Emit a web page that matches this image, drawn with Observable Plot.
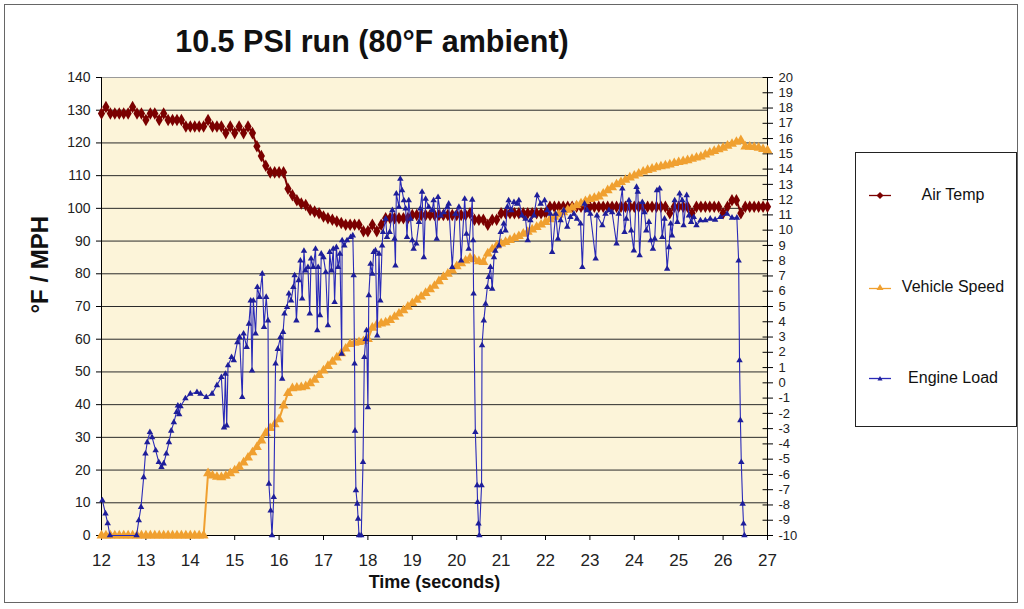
<!DOCTYPE html>
<html>
<head>
<meta charset="utf-8">
<script src="https://cdn.jsdelivr.net/npm/d3@7"></script>
<script src="https://cdn.jsdelivr.net/npm/@observablehq/plot@0.6"></script>
<style>
  html, body { margin: 0; padding: 0; background: #fff; }
  #wrap { position: relative; width: 1024px; height: 609px; overflow: hidden; font-family: "Liberation Sans", Arial, sans-serif; }
  #chart { position: absolute; left: 0; top: 0; }
  #border { position: absolute; left: 4px; top: 4px; width: 1012px; height: 597px; border: 1px solid #666; pointer-events: none; }
  #title { position: absolute; left: 0; width: 744px; top: 26px; text-align: center; font-size: 30.5px; font-weight: bold; line-height: 1; color: #111; }
  #legend { position: absolute; left: 855px; top: 152px; width: 160px; height: 273px; border: 1px solid #222; background: #fff; }
  .entry { position: absolute; left: 0; width: 160px; height: 20px; }
  .entry svg { position: absolute; left: 12px; top: 0; }
  .entry span { position: absolute; left: 35px; width: 124px; text-align: center; font-size: 16px; line-height: 20px; color: #111; white-space: nowrap; }
</style>
</head>
<body>
<div id="wrap">
  <div id="chart"></div>
  <div id="border"></div>
  <div id="title">10.5 PSI run (80°F ambient)</div>
  <div id="legend"></div>
</div>
<script>
// ---- Data ----
const seriesNames = ["Air Temp", "Vehicle Speed", "Engine Load"];
const seriesColors = ["#7b0000", "#f0a030", "#1e1e9a"];

// Air Temp and Vehicle Speed sampled every 0.1 s from 12.0 to 27.0
const sampleTimes = d3.range(151).map(i => 12 + i / 10);

const airTempValues = [
  129,131,129,129,129,129,129,131,129,129,
  127,129,129,127,129,127,127,127,127,125,
  125,125,125,125,127,125,125,125,123,125,
  123,125,123,125,123,119,116,113,111,111,
  111,111,106,104,102.5,101.5,101,99.5,99,98.5,
  97.5,97,96.5,96,95.5,95,95,95,95,93,
  93,95,93,95,97,97,97,97,97,97,
  98,98,98,98,98,98,98,98,98,98,
  98,98,98,98.5,96.5,96.5,96.5,95,96.5,96.5,
  98.5,98.5,98.5,98.5,98.5,98.5,98.5,98.5,98.5,98.5,
  98.5,100.5,100.5,100.5,100.5,100.5,100.5,100.5,100.5,100.5,
  100.5,100.5,100.5,100.5,100.5,100.5,100.5,100.5,100.5,100.5,
  100.5,100.5,100.5,100.5,100.5,100.5,100.5,100.5,98.5,100.5,
  100.5,100.5,100.5,98.5,100.5,100.5,100.5,100.5,100.5,100.5,
  98.5,100.5,102.5,102.5,98.5,100.5,100.5,100.5,100.5,100.5,
  100.5
];

const vehicleSpeedValues = [
  0,0,0,0,0,0,0,0,0,0,
  0,0,0,0,0,0,0,0,0,0,
  0,0,0,0,19,18.3,17.9,17.8,18.2,19,
  19.9,21,22.3,23.8,25.4,27,29,31.3,32.8,34,
  35.5,39.7,43.5,45,45.2,45.3,45.6,46.5,47.6,49,
  50.4,51.8,53.1,54.4,55.7,57.1,58.5,58.9,59.1,59.4,
  60,63.5,64.4,64.8,65.1,65.8,66.8,67.8,68.8,69.9,
  71,72,73,74.1,75.2,76.3,77.7,79,80,81,
  82.3,83.2,84,84.8,84.4,83.8,83.6,86.2,87.5,88.6,
  89.2,89.7,90.3,90.9,91.5,92.2,92.8,93.5,94.3,95,
  95.8,96.6,97.4,98.1,98.8,99.5,100.2,100.9,101.5,102.2,
  102.8,103.2,103.6,104.5,105.5,106.4,107.3,108,108.7,109.4,
  110,110.6,111.2,111.7,112.1,112.5,112.8,113.1,113.4,113.8,
  114.1,114.4,114.7,115.1,115.5,115.8,116.4,117,117.5,118,
  118.5,119.1,119.7,120.3,120.8,118.9,118.8,118.7,118.5,118.1,
  117.7
];

// Engine Load read at its own sample times
const engineLoadTimes = [
  12.02,12.09,12.14,12.19,12.79,12.84,12.89,12.95,12.99,13.03,13.09,13.14,13.22,13.29,13.35,13.40,13.46,13.52,13.57,13.63,
  13.69,13.72,13.75,13.78,13.89,14.0,14.15,14.23,14.36,14.49,14.6,14.7,14.76,14.79,14.82,14.85,14.93,14.98,15.06,15.11,
  15.17,15.2,15.27,15.32,15.36,15.39,15.42,15.47,15.51,15.56,15.62,15.66,15.71,15.75,15.77,15.81,15.84,15.88,15.92,15.97,
  16.03,16.07,16.09,16.12,16.18,16.22,16.27,16.32,16.35,16.39,16.44,16.48,16.52,16.56,16.59,16.65,16.69,16.72,16.77,16.82,
  16.86,16.88,16.92,16.95,17.0,17.05,17.1,17.14,17.18,17.22,17.25,17.29,17.33,17.37,17.41,17.42,17.47,17.53,17.61,17.66,
  17.68,17.7,17.71,17.73,17.76,17.78,17.8,17.85,17.89,17.92,17.95,17.97,18.0,18.02,18.06,18.1,18.13,18.17,18.21,18.25,
  18.28,18.32,18.34,18.4,18.43,18.49,18.55,18.6,18.62,18.64,18.7,18.73,18.77,18.81,18.85,18.88,18.92,18.96,19.0,19.03,
  19.09,19.15,19.18,19.22,19.26,19.3,19.37,19.45,19.48,19.55,19.58,19.64,19.71,19.79,19.82,19.9,19.97,20.05,20.1,20.18,
  20.22,20.27,20.35,20.37,20.38,20.42,20.46,20.47,20.49,20.51,20.56,20.57,20.61,20.65,20.69,20.72,20.76,20.8,20.84,20.87,
  20.95,20.99,21.06,21.1,21.14,21.17,21.23,21.29,21.36,21.4,21.47,21.55,21.6,21.66,21.74,21.81,21.89,21.98,22.04,22.11,
  22.15,22.23,22.28,22.34,22.41,22.49,22.56,22.64,22.71,22.79,22.83,22.88,22.94,23.01,23.13,23.16,23.28,23.35,23.43,23.5,
  23.6,23.65,23.73,23.78,23.82,23.88,23.93,23.99,24.05,24.08,24.12,24.18,24.23,24.27,24.33,24.37,24.42,24.46,24.51,24.57,
  24.63,24.68,24.74,24.78,24.82,24.85,24.91,24.97,25.02,25.08,25.11,25.18,25.23,25.28,25.34,25.4,25.49,25.6,25.71,25.82,
  25.94,26.09,26.2,26.31,26.35,26.37,26.39,26.41,26.44,26.46,26.48
];
const engineLoadValues = [
  10.7,6.7,3.7,0,0,4.6,8.7,17.8,25,28.5,31.6,30,26,22.4,20.9,22,25,28.5,32,34.6,
  37.7,39.7,37,39.5,41.9,43.3,43.8,43.3,42.3,43.3,45.9,48.4,33,49.4,33.6,52,54.5,53.5,59,60.6,
  42.3,61.7,57.6,64.7,71.8,50.4,71.8,61.7,75.9,72.9,80,63.7,72.9,65.7,15.8,7.6,0,11.7,52.5,57,
  60.6,47.9,62.2,67.8,69.8,73.9,71.8,75.9,79.5,65.7,78,84,72.4,87,81,82,67.8,84.6,82,87.6,
  62.7,82,67.3,86.1,85,80.5,64.2,86.6,81,87.6,71.3,88.1,82,86.1,55.5,90.2,88.6,90.2,91.2,91.7,
  79.5,52.5,32,13.8,9.7,5.1,0,0,22.4,54.5,60,62.7,39.2,73.4,83,80,86.6,87.1,61.1,86.1,
  71.8,88.6,92.7,96.8,91.2,92.7,99.4,90.7,82.5,104.5,100.4,109,105.5,102.4,99.9,91.2,102.4,96.8,90.2,87.6,
  89.2,95.8,99.9,105,85,102.9,100.4,99.4,102.4,90.7,103.4,97.8,98.8,100.4,101.4,82,98.3,100.4,84,102.9,
  92.2,87.6,102.6,90.2,73.9,31.6,15.3,10.2,3.6,0,15.3,58.1,65.7,70.8,75.9,79,82,75.4,85,87,
  88.6,92.7,95.3,93.2,100.4,102.4,99.4,101.9,101.4,102.4,97.8,96.8,90.2,96.3,97.8,104,101.4,102.4,99.4,98.3,
  86.6,98.3,90.7,96.3,99.4,94.3,97.3,98.3,96.8,95.3,82,101.4,99.4,98.3,84.6,97.8,94.8,98.3,99.4,98.8,
  89.2,98.3,106,92.7,96.8,102.4,93.2,87.1,106.5,105,85.6,101.9,98.8,93.2,95.8,90.2,87.6,90.7,105.5,106,
  91.2,96.8,81.5,88.1,95.3,91.7,102.4,95.8,104.5,102.4,94.8,104,97.8,95.8,97.3,94.8,96.3,96.3,96.8,96.5,
  97.3,98.3,97.1,97.1,84,53.5,35.2,22.4,9.7,3.6,0
];

// Axis ticks
const xTicks = d3.range(12, 28);                 // 12 … 27
const leftTicks = d3.range(0, 141, 10);          // 0 … 140
const rightTicks = d3.range(-10, 21);            // -10 … 20
const gridLines = d3.range(10, 140, 10);

// ---- Build tables ----
const air = sampleTimes.map((t, i) => ({t, v: airTempValues[i]}));
const speed = sampleTimes.map((t, i) => ({t, v: vehicleSpeedValues[i]}));
const load = engineLoadTimes.map((t, i) => ({t, v: engineLoadValues[i]}));

// secondary axis (-10 … 20) mapped onto the primary 0 … 140 range
const rightToLeft = r => (r + 10) * 140 / 30;
const leftToRight = v => Math.round(v * 30 / 140 - 10);
const rightTickPos = rightTicks.map(rightToLeft);

const font = "'Liberation Sans', Arial, sans-serif";

const chart = Plot.plot({
  width: 1024,
  height: 609,
  marginLeft: 101,
  marginRight: 257,
  marginTop: 77,
  marginBottom: 74,
  style: {fontFamily: font, color: "#222", background: "transparent", overflow: "visible"},
  x: {domain: [12, 27]},
  y: {domain: [0, 140]},
  marks: [
    Plot.frame({fill: "#fcf4d9", stroke: null}),
    Plot.ruleY(gridLines, {stroke: "#2a2a2a", strokeWidth: 1}),
    Plot.ruleY([140], {stroke: "#9a9a9a", strokeWidth: 1}),
    Plot.ruleY([0], {stroke: "#000", strokeWidth: 1}),
    Plot.ruleX([12], {stroke: "#000", strokeWidth: 1}),
    Plot.ruleX([27], {stroke: "#000", strokeWidth: 1}),
    Plot.axisX({ticks: xTicks, tickSize: 5, tickPadding: 13, fontSize: 17, tickFormat: d => d, label: null, stroke: "#000"}),
    Plot.axisY({anchor: "left", ticks: leftTicks, tickSize: 5, tickPadding: 6, fontSize: 14, tickFormat: d => d, label: null, stroke: "#000"}),
    Plot.axisY({anchor: "right", ticks: rightTickPos, tickSize: 5, tickPadding: 6, fontSize: 13, tickFormat: leftToRight, label: null, stroke: "#000"}),
    Plot.ruleY(rightTickPos, {x1: 26.9, x2: 27, stroke: "#000", strokeWidth: 1}),
    // Air Temp
    Plot.line(air, {x: "t", y: "v", stroke: seriesColors[0], strokeWidth: 2}),
    Plot.dot(air, {x: "t", y: "v", symbol: "diamond", r: 3.8, fill: seriesColors[0], stroke: null}),
    // Vehicle Speed
    Plot.line(speed, {x: "t", y: "v", stroke: seriesColors[1], strokeWidth: 2}),
    Plot.dot(speed, {x: "t", y: "v", symbol: "triangle", r: 3.7, fill: seriesColors[1], stroke: null}),
    // Engine Load
    Plot.line(load, {x: "t", y: "v", stroke: "#2a2ab8", strokeWidth: 1.1}),
    Plot.dot(load, {x: "t", y: "v", symbol: "triangle", r: 2.4, fill: seriesColors[2], stroke: null}),
    // Axis titles
    Plot.text(["Time (seconds)"], {frameAnchor: "bottom", dy: 52, fontSize: 18, fontWeight: "bold", fill: "#111"}),
    Plot.text(["°F / MPH"], {frameAnchor: "left", dx: -61, dy: 7, rotate: -90, fontSize: 24, fontWeight: "bold", fill: "#111"})
  ]
});
document.getElementById("chart").appendChild(chart);

// ---- Legend ----
const legend = document.getElementById("legend");
const entryTops = [36, 128, 219];
const symbolPaths = [
  "M11,3 L14.5,6.5 L11,10 L7.5,6.5 Z",
  "M11,3 L14.5,9 L7.5,9 Z",
  "M11,4 L13.5,8.5 L8.5,8.5 Z"
];
seriesNames.forEach((name, i) => {
  const e = document.createElement("div");
  e.className = "entry";
  e.style.top = entryTops[i] + "px";
  e.innerHTML =
    `<svg width="24" height="20" viewBox="0 0 22 20"><line x1="0" y1="${i === 1 ? 7.5 : 6.5}" x2="22" y2="${i === 1 ? 7.5 : 6.5}" stroke="${i === 2 ? '#2a2ab8' : seriesColors[i]}" stroke-width="1.3"/><path d="${symbolPaths[i]}" fill="${seriesColors[i]}"/></svg>` +
    `<span style="top:-4px">${name}</span>`;
  legend.appendChild(e);
});
</script>
</body>
</html>
